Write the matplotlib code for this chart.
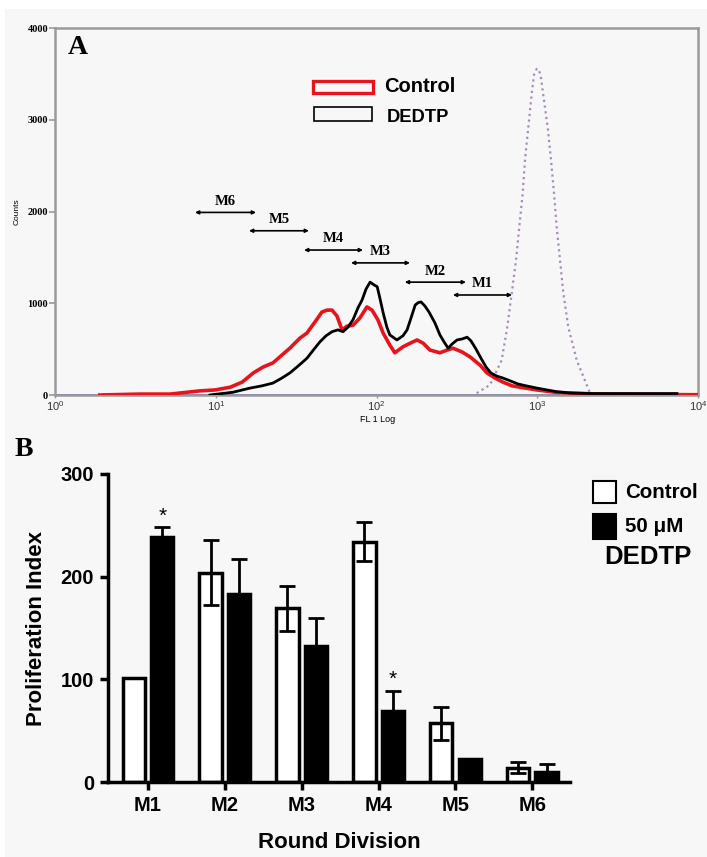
import matplotlib
matplotlib.use("Agg")
import matplotlib.pyplot as plt
from matplotlib.patches import Rectangle

plt.rcParams['font.family'] = ['Liberation Sans', 'DejaVu Sans']

W, H = 707, 857
BG = '#f7f7f7'

def fx(px):
    return px / W

def fy(py):
    return 1 - py / H

# ---- panel A: flow histograms (FL1 value, counts)
ctrl_fl = [1.9, 3.38, 5.19, 7.98, 9.89, 12.3, 14.6, 17.1, 19.7, 22.7, 25.8, 28.9, 33.4, 36.9,
           41.4, 45.8, 49.2, 52.9, 56.8, 61.0, 65.5, 71.4, 78.9, 87.2, 93.8, 102, 110, 121,
           130, 146, 162, 179, 195, 215, 248, 275, 299, 340, 382, 441, 487, 546, 612, 697,
           781, 996, 1290, 1670, 2455, 5030, 10000]
ctrl_counts = [0, 10, 10, 45, 55, 85, 140, 240, 305, 350, 435, 510, 620, 675,
               795, 905, 925, 925, 860, 710, 750, 760, 840, 960, 925, 820, 675, 545,
               460, 525, 565, 600, 565, 490, 460, 490, 510, 470, 415, 325, 240, 185, 140, 100,
               85, 55, 30, 20, 10, 5, 3]

dedtp_fl = [9.2, 10.2, 12.8, 16.3, 19.4, 22.7, 25.8, 28.9, 32.5, 36.9, 40.9, 44.5, 48.5, 52.9,
            57.6, 61.9, 66.5, 71.4, 76.7, 81.3, 86.1, 91.2, 96.5, 101, 105, 110, 116, 121,
            134, 146, 155, 164, 174, 181, 189, 200, 212, 231, 248, 263, 279, 295, 317, 340,
            366, 387, 416, 447, 480, 515, 562, 612, 677, 759, 851, 996, 1150, 1330, 1600,
            2130, 3270, 5030, 7400]
dedtp_counts = [0, 10, 30, 75, 100, 130, 185, 240, 315, 400, 500, 580, 645, 690,
                710, 690, 740, 820, 950, 1035, 1155, 1230, 1200, 1180, 1055, 895, 740, 655,
                600, 645, 710, 840, 980, 1005, 1015, 970, 905, 785, 655, 580, 510, 555, 600, 610,
                630, 590, 500, 400, 305, 240, 205, 185, 155, 120, 100, 75, 55, 35, 22,
                16, 16, 16, 16]

peak_fl = [420, 508, 601, 651, 694, 738, 773, 812, 839, 880, 924, 955, 993, 1026, 1055, 1086,
           1161, 1218, 1271, 1321, 1386, 1453, 1560, 1760, 2130, 2455]
peak_counts = [20, 110, 380, 740, 1110, 1470, 1830, 2200, 2560, 2920, 3290, 3490, 3555, 3545,
               3455, 3290, 2920, 2560, 2200, 1830, 1470, 1110, 740, 380, 20, 0]

base_fl = [1, 1350]
base_counts = [0, 0]

gate_names = ['M1', 'M2', 'M3', 'M4', 'M5', 'M6']
gate_lo = [299, 150, 69.4, 35.4, 16.1, 7.43]
gate_hi = [697, 360, 161.5, 82.4, 38.0, 17.8]
gate_y = [1090, 1230, 1440, 1580, 1790, 1990]

# ---- panel B: proliferation index per round of division
rounds = ['M1', 'M2', 'M3', 'M4', 'M5', 'M6']
control_mean = [101, 204, 169, 234, 57, 14]
control_err = [0, 32, 22, 19, 16, 5]
dedtp_mean = [239, 183, 132, 69, 22, 10]
dedtp_err = [9, 34, 28, 20, 0, 8]
signif = [True, False, False, True, False, False]

fig = plt.figure(figsize=(W / 100, H / 100), dpi=100)
fig.patch.set_facecolor(BG)
fig.patches.append(Rectangle((0, fy(9)), 1, 9 / H, transform=fig.transFigure,
                             facecolor='white', edgecolor='none', zorder=0))
fig.patches.append(Rectangle((0, 0), 5 / W, 1, transform=fig.transFigure,
                             facecolor='white', edgecolor='none', zorder=0))

# ================= panel A =================
axA = fig.add_axes([fx(55), fy(395), fx(698) - fx(55), fy(28) - fy(395)])
axA.set_facecolor(BG)
axA.set_xscale('log')
axA.set_xlim(1, 1e4)
axA.set_ylim(0, 4000)

axA.plot(peak_fl, peak_counts, color='#a68cbc', lw=1.6, ls=(0, (1, 1.6)), zorder=2)
axA.plot(ctrl_fl, ctrl_counts, color='#e8141c', lw=2.6, zorder=3)
axA.plot(dedtp_fl, dedtp_counts, color='black', lw=2.0, zorder=4)
axA.plot(base_fl, base_counts, color='#5a64d0', lw=2.0, zorder=2.5)

for name, lo, hi, yv in zip(gate_names, gate_lo, gate_hi, gate_y):
    axA.annotate('', xy=(hi, yv), xytext=(lo, yv),
                 arrowprops=dict(arrowstyle='<|-|>', lw=1.2, color='black',
                                 shrinkA=0, shrinkB=0, mutation_scale=5))
    axA.annotate(name, xy=((lo * hi) ** 0.5, yv), xytext=(0, 8), textcoords='offset points',
                 ha='center', va='center', family='Liberation Serif', fontweight='bold',
                 fontsize=10.5)

for s in axA.spines.values():
    s.set_color('#9a9a9a')
    s.set_linewidth(1.8)
axA.set_yticks([0, 1000, 2000, 3000, 4000])
axA.set_yticklabels(['0', '1000', '2000', '3000', '4000'], family='Liberation Serif',
                    fontweight='bold', fontsize=7.5)
axA.set_xticks([1, 10, 100, 1000, 10000])
axA.xaxis.set_minor_locator(matplotlib.ticker.NullLocator())
axA.tick_params(axis='y', direction='out', length=4, width=1.2, color='#9a9a9a', pad=1)
axA.tick_params(axis='x', direction='out', length=2, width=1, color='#9a9a9a',
                labelsize=8, labelcolor='#333333', pad=1)
axA.set_ylabel('Counts', fontsize=6)
axA.yaxis.set_label_coords(-0.054, 0.5)
axA.set_xlabel('FL 1 Log', fontsize=6.5, va='center')
axA.xaxis.set_label_coords(0.502, -0.066)
axA.text(0.02, 0.948, 'A', transform=axA.transAxes, family='Liberation Serif',
         fontweight='bold', fontsize=20, ha='left', va='center')

# legend A
fig.patches.append(Rectangle((fx(313), fy(93)), fx(373) - fx(313), fy(81) - fy(93),
                             transform=fig.transFigure, facecolor='none',
                             edgecolor='#e8141c', lw=2.4))
fig.patches.append(Rectangle((fx(314), fy(121)), fx(372) - fx(314), fy(107) - fy(121),
                             transform=fig.transFigure, facecolor='none',
                             edgecolor='black', lw=1.2))
fig.text(fx(384), fy(86), 'Control', fontsize=14.5, fontweight='bold', va='center')
fig.text(fx(387), fy(117), 'DEDTP', fontsize=13.2, fontweight='bold', va='center')

# ================= panel B =================
axB = fig.add_axes([fx(108), fy(782), fx(570) - fx(108), fy(474) - fy(782)])
axB.set_facecolor(BG)
xs = list(range(len(rounds)))
off = 0.185
bw = 0.29
axB.bar([x - off for x in xs], control_mean, bw, color='white', edgecolor='black', lw=2.5,
        zorder=2)
axB.bar([x + off for x in xs], dedtp_mean, bw, color='black', edgecolor='black', lw=2.5,
        zorder=2)
axB.errorbar([x - off for x in xs], control_mean, yerr=control_err, fmt='none',
             ecolor='black', elinewidth=2, capsize=6, capthick=2, zorder=3)
axB.errorbar([x + off for x in xs], dedtp_mean, yerr=dedtp_err, fmt='none',
             ecolor='black', elinewidth=2, capsize=6, capthick=2, zorder=3)
for x, m, e, s in zip(xs, dedtp_mean, dedtp_err, signif):
    if s:
        axB.annotate('*', xy=(x + off, m + e), xytext=(0, 1), textcoords='offset points',
                     ha='center', va='bottom', fontsize=15)

axB.set_xlim(-0.52, 5.49)
axB.set_ylim(0, 300)
axB.spines['top'].set_visible(False)
axB.spines['right'].set_visible(False)
axB.spines['left'].set_linewidth(2.5)
axB.spines['bottom'].set_linewidth(2.5)
axB.set_yticks([0, 100, 200, 300])
axB.set_xticks(xs)
axB.set_xticklabels(rounds)
axB.tick_params(direction='out', length=6, width=2.5, labelsize=14.5, pad=4)
for lab in axB.get_xticklabels() + axB.get_yticklabels():
    lab.set_fontweight('bold')
axB.set_ylabel('Proliferation Index', fontsize=16, fontweight='bold', labelpad=10)
axB.set_xlabel('Round Division', fontsize=16, fontweight='bold', va='center')
axB.xaxis.set_label_coords(0.5, -0.195)

fig.text(fx(15), fy(450), 'B', family='Liberation Serif', fontweight='bold', fontsize=20,
         va='center', ha='left')

# legend B
fig.patches.append(Rectangle((fx(593), fy(503)), fx(616) - fx(593), fy(481) - fy(503),
                             transform=fig.transFigure, facecolor='white',
                             edgecolor='black', lw=1.5))
fig.patches.append(Rectangle((fx(593), fy(539)), fx(616) - fx(593), fy(514) - fy(539),
                             transform=fig.transFigure, facecolor='black',
                             edgecolor='black', lw=1.5))
fig.text(fx(625), fy(493), 'Control', fontsize=14.8, fontweight='bold', va='center')
fig.text(fx(625), fy(527), '50 \u03bcM', fontsize=14.8, fontweight='bold', va='center')
fig.text(fx(648), fy(557), 'DEDTP', fontsize=18.5, fontweight='bold', va='center',
         ha='center')

fig.savefig('out.png', dpi=100, facecolor=fig.get_facecolor())
